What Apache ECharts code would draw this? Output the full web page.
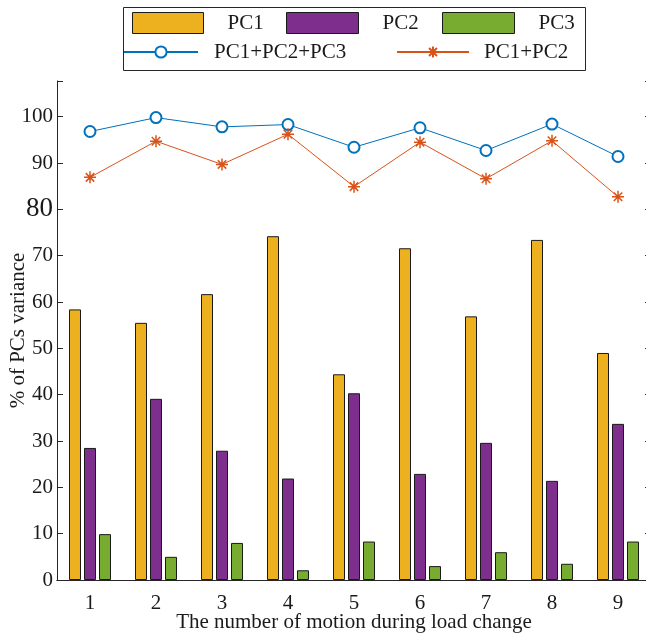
<!DOCTYPE html>
<html>
<head>
<meta charset="utf-8">
<script src="https://cdn.jsdelivr.net/npm/echarts@6/dist/echarts.min.js"></script>
<style>html,body{margin:0;padding:0;background:#fff;}#c{width:646px;height:635px;}</style>
</head>
<body>
<div id="c"></div>
<script>
const categories = ['1','2','3','4','5','6','7','8','9'];
const pc1 = [58.4, 55.5, 61.7, 74.2, 44.4, 71.6, 56.9, 73.4, 49.0];
const pc2 = [28.5, 39.1, 27.9, 21.9, 40.3, 22.9, 29.6, 21.4, 33.7];
const pc3 = [9.9, 5.0, 8.0, 2.1, 8.3, 3.0, 6.0, 3.5, 8.3];
const pc123 = [96.8, 99.8, 97.8, 98.3, 93.4, 97.6, 92.7, 98.4, 91.4];
const pc12 = [86.9, 94.7, 89.7, 96.2, 84.9, 94.5, 86.6, 94.8, 82.7];
const yTicks = [0,10,20,30,40,50,60,70,80,90,100];

const FONT = "'Liberation Serif', 'Times New Roman', serif";
const TXT = '#1a1a1a';
const AX = '#262626';
const C1 = '#EDB120', C2 = '#7E2F8E', C3 = '#77AC30', CB = '#0072BD', CO = '#D95319';
const star = 'path://M0,-10L0,10M-10,0L10,0M-7.07,-7.07L7.07,7.07M-7.07,7.07L7.07,-7.07';

const chart = echarts.init(document.getElementById('c'), null, {renderer:'canvas'});
const barStyle = c => ({color:c, borderColor:'#1a1a1a', borderWidth:1});
function lg(name, left, top, w, h, pad, extra) {
  return Object.assign({
    data:[name], left:left, top:top, itemWidth:w, itemHeight:h, padding:0, itemGap:0,
    selectedMode:false,
    textStyle:{fontFamily:FONT, fontSize:21, color:TXT, padding:[0,0,0,pad], lineHeight:24}
  }, extra || {});
}
const barLegendStyle = {icon:'rect', itemStyle:{borderColor:'#1a1a1a', borderWidth:1}};
chart.setOption({
  animation:false,
  backgroundColor:'#fff',
  graphic:[{type:'rect', shape:{x:123.5, y:7.5, width:462, height:63}, style:{fill:'#fff', stroke:AX, lineWidth:1}, z:-1}],
  legend:[
    lg('PC1', 132, 11, 71, 21, 19, barLegendStyle),
    lg('PC2', 286, 11, 72, 21, 19, barLegendStyle),
    lg('PC3', 442, 11, 72, 21, 19, barLegendStyle),
    lg('PC1+PC2+PC3', 123, 40, 74, 14, 11),
    lg('PC1+PC2', 396, 40, 72, 14, 10)
  ],
  grid:{left:57, top:81, width:594, height:499, containLabel:false, outerBoundsMode:'none'},
  xAxis:[{
    type:'category', data:categories, position:'bottom',
    axisLine:{lineStyle:{color:AX, width:1}},
    axisTick:{inside:true, alignWithLabel:true, length:6, lineStyle:{color:AX}},
    axisLabel:{fontFamily:FONT, fontSize:21, color:TXT, margin:13},
    name:'The number of motion during load change', nameLocation:'middle', nameGap:32,
    nameMoveOverlap:false,
    nameTextStyle:{fontFamily:FONT, fontSize:21, color:TXT}
  },{
    type:'category', data:categories, position:'top',
    axisLine:{lineStyle:{color:AX, width:1}},
    axisTick:{inside:true, alignWithLabel:true, length:6, lineStyle:{color:AX}},
    axisLabel:{show:false}
  }],
  yAxis:[{
    type:'value', min:0, max:107.7, interval:10, position:'left',
    axisLine:{show:true, lineStyle:{color:AX, width:1}},
    axisTick:{show:true, inside:true, length:6, lineStyle:{color:AX}},
    splitLine:{show:false},
    axisLabel:{fontFamily:FONT, fontSize:21, color:TXT, margin:4,
      formatter:v => (yTicks.indexOf(v) < 0 ? '' : (v === 80 ? '{big|80}' : String(v))),
      rich:{big:{fontFamily:FONT, fontSize:27, color:TXT}}},
    name:'% of PCs variance', nameLocation:'middle', nameGap:28, nameRotate:90,
    nameMoveOverlap:false,
    nameTextStyle:{fontFamily:FONT, fontSize:21, color:TXT}
  },{
    type:'value', min:0, max:107.7, interval:10, position:'right',
    axisLine:{show:true, lineStyle:{color:AX, width:1}},
    axisTick:{show:true, inside:true, length:6, lineStyle:{color:AX}},
    splitLine:{show:false}, axisLabel:{show:false}
  }],
  series:[
    {name:'PC1', type:'bar', data:pc1, barWidth:12, barGap:'25%', itemStyle:barStyle(C1), emphasis:{disabled:true}},
    {name:'PC2', type:'bar', data:pc2, barWidth:12, barGap:'25%', itemStyle:barStyle(C2), emphasis:{disabled:true}},
    {name:'PC3', type:'bar', data:pc3, barWidth:12, barGap:'25%', itemStyle:barStyle(C3), emphasis:{disabled:true}},
    {name:'PC1+PC2+PC3', type:'line', data:pc123, symbol:'emptyCircle', symbolSize:11,
      lineStyle:{color:CB, width:1}, itemStyle:{color:CB, borderColor:CB, borderWidth:1.5}, emphasis:{disabled:true}},
    {name:'PC1+PC2', type:'line', data:pc12, symbol:star, symbolSize:12,
      lineStyle:{color:CO, width:1}, itemStyle:{color:CO, borderColor:CO, borderWidth:1.5}, emphasis:{disabled:true}}
  ]
});
</script>
</body>
</html>
